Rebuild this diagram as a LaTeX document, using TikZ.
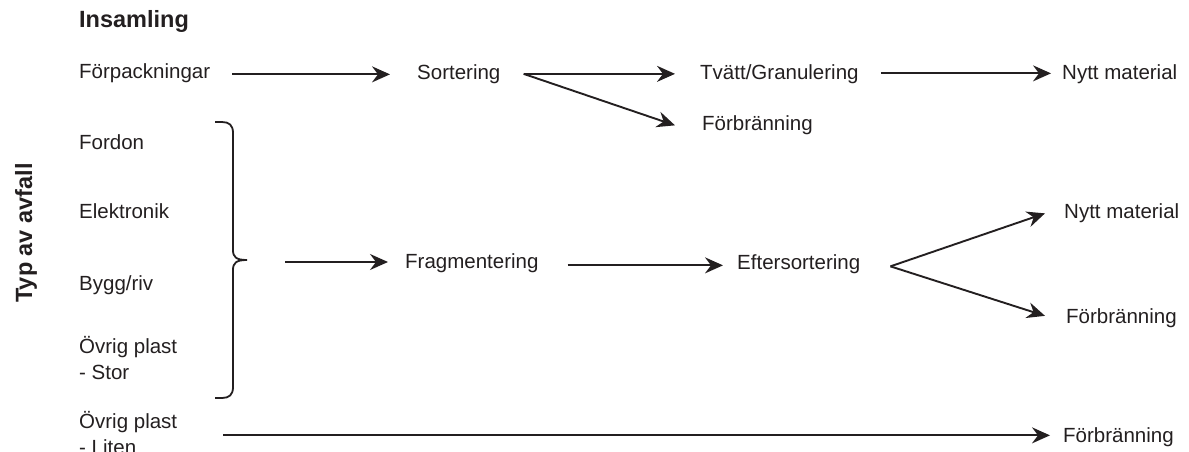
\documentclass[tikz,border=0pt]{standalone}
\usepackage{fontspec}
\setmainfont{Liberation Sans}
\usetikzlibrary{arrows.meta}
\definecolor{ink}{HTML}{231F20}
\begin{document}
\begin{tikzpicture}[x=1pt,y=-1pt,
  lbl/.style={anchor=base west,inner sep=0pt,text=ink,font=\fontsize{20.5}{26}\selectfont},
  ttl/.style={inner sep=0pt,text=ink,font=\fontsize{23.5}{28}\selectfont\bfseries},
  arr/.style={draw=ink,line width=1.9pt,-{Stealth[length=18pt,width=16pt,inset=6pt]}},
  brc/.style={draw=ink,line width=1.8pt}]
\useasboundingbox (0,0) rectangle (1189,452);
% titles
\node[ttl,anchor=base west] (ins) at (79,28) {Insamling};
\node[ttl,anchor=base,rotate=90] (typ) at (32,233) {Typ av avfall};
% left column
\node[lbl] (fp) at (79,78) {Förpackningar};
\node[lbl] (fordon) at (79,149) {Fordon};
\node[lbl] (elek) at (79,218) {Elektronik};
\node[lbl] (bygg) at (79,290) {Bygg/riv};
\node[lbl] (ovs) at (79,353) {\vtop{\baselineskip=26pt\hbox{Övrig plast}\hbox{- Stor}}};
\node[lbl] (ovl) at (79,428) {\vtop{\baselineskip=26pt\hbox{Övrig plast}\hbox{- Liten}}};
% top row
\node[lbl] (sort) at (417,79) {Sortering};
\node[lbl] (tvg) at (700,79) {Tvätt/Granulering};
\node[lbl] (fb1) at (702,130) {Förbränning};
\node[lbl] (nm1) at (1062,79) {Nytt material};
% middle row
\node[lbl] (frag) at (405,268) {Fragmentering};
\node[lbl] (efter) at (737,269) {Eftersortering};
\node[lbl] (nm2) at (1064,218) {Nytt material};
\node[lbl] (fb2) at (1066,323) {Förbränning};
% bottom
\node[lbl] (fb3) at (1063,442) {Förbränning};
% brace
\coordinate (bt) at (247,260);
\draw[brc] (215,122) -- (222,122) .. controls (229,122) and (233,125) .. (233,133)
  -- (233,250) .. controls (233,257) and (236,260) .. (bt)
  .. controls (236,260) and (233,263) .. (233,270)
  -- (233,387) .. controls (233,395) and (229,398) .. (222,398) -- (215,398);
% connectors
\draw[arr] ([xshift=22pt,yshift=1pt]fp.mid east) -- ([xshift=-27pt,yshift=1pt]fp.mid east -| sort.west);
\coordinate (ss) at ([xshift=23pt,yshift=2.5pt]sort.mid east);
\draw[arr] (ss) -- ([xshift=-25pt]ss -| tvg.west);
\draw[arr] (ss) -- ([xshift=-27pt,yshift=2pt]fb1.mid west);
\draw[arr] ([xshift=22pt,yshift=3pt]tvg.mid east) -- ([xshift=-11pt,yshift=3pt]nm1.mid west);
\draw[arr] ([xshift=38pt,yshift=-2pt]bt) -- ([xshift=-17pt,yshift=-2pt]bt -| frag.west);
\draw[arr] ([xshift=29pt]frag.mid east) -- ([xshift=-14pt]frag.mid east -| efter.west);
\coordinate (es) at ([xshift=30pt]efter.mid east);
\draw[arr] (es) -- ([xshift=-19pt,yshift=2pt]nm2.mid west);
\draw[arr] (es) -- ([xshift=-21pt,yshift=4.5pt]fb2.mid west);
\draw[arr] ([xshift=46pt,yshift=4pt]ovl.east |- fb3.mid west) -- ([xshift=-13pt,yshift=4pt]fb3.mid west);
\end{tikzpicture}
\end{document}
